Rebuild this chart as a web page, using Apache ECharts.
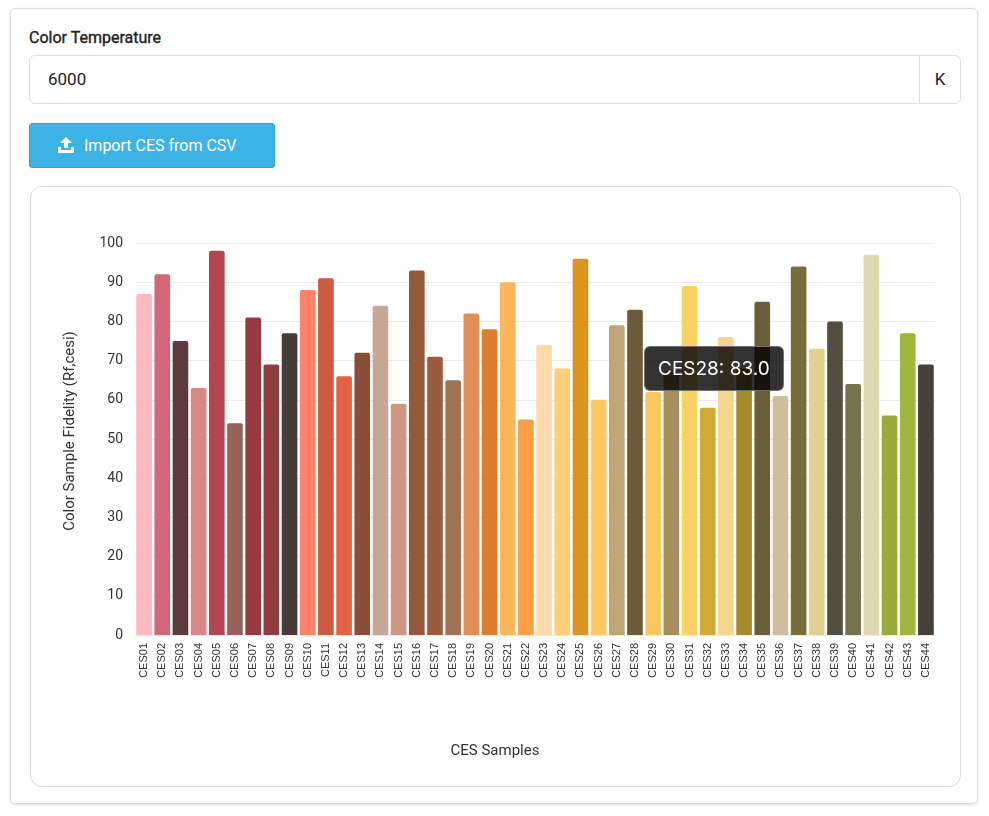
<!DOCTYPE html>
<html>
<head>
    <meta charset="utf-8">
    <title>CES Fidelity</title>
    <script src="https://cdn.jsdelivr.net/npm/echarts@6/dist/echarts.min.js"></script>
    <style>
        html, body { margin: 0; padding: 0; background: #fff; font-family: Roboto, "Noto Sans", sans-serif; color: #222; }
        .card { position: absolute; left: 10px; top: 8px; width: 968px; height: 796px; border: 1px solid #dcdcdc; border-radius: 5px; box-shadow: 0 1px 3px rgba(0,0,0,0.12); box-sizing: border-box; }
        .label { position: absolute; left: 18px; top: 19px; font-size: 16px; font-weight: 400; -webkit-text-stroke: 0.35px #222; color: #222; }
        .input { position: absolute; left: 18px; top: 46px; width: 932px; height: 49px; border: 1px solid #dcdcdc; border-radius: 6px; box-sizing: border-box; }
        .input .val { position: absolute; left: 18px; top: 13px; font-size: 17px; color: #222; }
        .input .unit { position: absolute; right: 0; top: 0; width: 40px; height: 47px; border-left: 1px solid #dcdcdc; text-align: center; line-height: 47px; font-size: 17px; }
        .btn { position: absolute; left: 18px; top: 114px; width: 246px; height: 45px; background: #3cb3e4; border: 1px solid #2ea4d6; border-radius: 3px; box-sizing: border-box; color: #fff; font-size: 16px; line-height: 43px; }
        .btn svg { position: absolute; left: 27px; top: 12px; }
        .btn span { position: absolute; left: 54px; }
        .chartcard { position: absolute; left: 19px; top: 177px; width: 931px; height: 601px; border: 1px solid #dcdcdc; border-radius: 12px; box-sizing: border-box; }
        #main { position: absolute; left: 0; top: 0; width: 929px; height: 599px; }
    </style>
</head>
<body>
    <div class="card">
        <div class="label">Color Temperature</div>
        <div class="input"><span class="val">6000</span><span class="unit">K</span></div>
        <div class="btn">
            <svg width="18" height="18" viewBox="0 0 18 18"><path d="M9 1 L15 7 H11 V12 H7 V7 H3 Z" fill="#fff"/><path d="M1 11 H4 V14 H14 V11 H17 V17 H1 Z" fill="#fff"/></svg>
            <span>Import CES from CSV</span>
        </div>
        <div class="chartcard"><div id="main"></div></div>
    </div>
    <script type="text/javascript">
        var samples = [];
        for (var i = 1; i <= 44; i++) { samples.push('CES' + (i < 10 ? '0' + i : i)); }

        var fidelity = [87, 92, 75, 63, 98, 54, 81, 69, 77, 88, 91, 66, 72, 84, 59, 93, 71, 65, 82, 78, 90, 55,
                        74, 68, 96, 60, 79, 83, 62, 67, 89, 58, 76, 68, 85, 61, 94, 73, 80, 64, 97, 56, 77, 69];

        var sampleColors = ['#fbb9bd', '#d4667a', '#5c3b3d', '#d68887', '#b44553', '#97625b', '#98383f', '#913c40',
                            '#473c38', '#ff836a', '#cc5941', '#e36147', '#8a4d37', '#c6a795', '#ce9780', '#94593b',
                            '#995c3f', '#a07357', '#df8f55', '#dd7d2d', '#feb65c', '#fa9f45', '#fddaab', '#fecf7b',
                            '#db9420', '#fec764', '#c1a577', '#6c5b3a', '#f9c75f', '#a88d5e', '#fad264', '#d1aa33',
                            '#f4d690', '#a58b2f', '#6b5f39', '#cebd9f', '#786e3b', '#e2d092', '#524d3e', '#77724e',
                            '#e0d8b4', '#9aaa3a', '#a0b53e', '#45413a'];

        var myChart = echarts.init(document.getElementById('main'));

        myChart.setOption({
            animation: false,
            grid: { left: 104, right: 25, top: 56, bottom: 151 },
            tooltip: {
                trigger: 'item',
                alwaysShowContent: true,
                transitionDuration: 0,
                position: [613, 159],
                backgroundColor: 'rgba(0,0,0,0.8)',
                borderColor: 'rgba(120,120,120,0.9)',
                borderWidth: 1,
                padding: [7, 13],
                textStyle: { color: '#fff', fontSize: 19, fontFamily: 'Inter' },
                extraCssText: 'border-radius:6px;box-shadow:none;',
                formatter: function (p) { return p.name + ': ' + p.value.toFixed(1); }
            },
            xAxis: {
                type: 'category',
                data: samples,
                name: 'CES Samples',
                nameLocation: 'middle',
                nameGap: 109,
                nameTextStyle: { fontSize: 15, color: '#333', fontFamily: 'Roboto', padding: [0, 80, 0, 0] },
                axisLine: { lineStyle: { color: '#ebebeb' } },
                axisTick: { show: false },
                axisLabel: { rotate: 90, interval: 0, fontSize: 11, color: '#333', fontFamily: 'Liberation Sans', margin: 8 }
            },
            yAxis: {
                type: 'value',
                min: 0,
                max: 100,
                interval: 10,
                name: 'Color Sample Fidelity (Rf,cesi)',
                nameLocation: 'middle',
                nameGap: 57,
                nameTextStyle: { fontSize: 15, color: '#333', fontFamily: 'Roboto', padding: [0, 0, 0, 16] },
                axisLine: { show: false },
                axisTick: { show: false },
                axisLabel: { fontSize: 14, color: '#333', fontFamily: 'Roboto', margin: 12 },
                splitLine: { lineStyle: { color: '#ebebeb' } }
            },
            series: [{
                name: 'Fidelity',
                type: 'bar',
                barCategoryGap: '14%',
                data: fidelity.map(function (v, i) {
                    return { value: v, itemStyle: { color: sampleColors[i], borderRadius: [2, 2, 0, 0] } };
                })
            }]
        });

        myChart.dispatchAction({ type: 'showTip', seriesIndex: 0, dataIndex: 27 });
    </script>
</body>
</html>
